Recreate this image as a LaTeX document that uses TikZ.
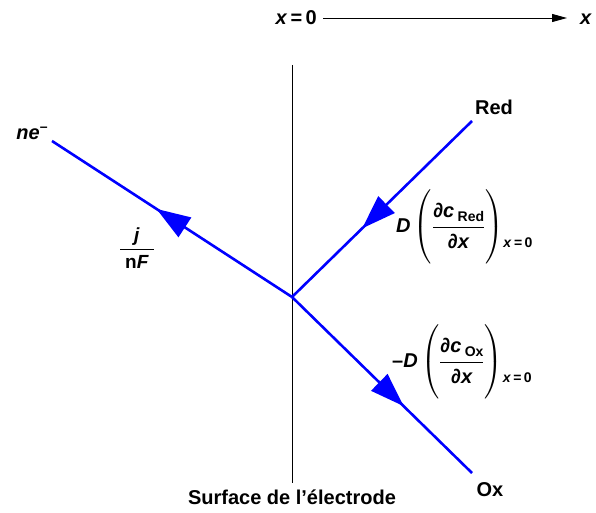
\documentclass[tikz,border=0pt]{standalone}
\usepackage{amsmath}
\usepackage{fontspec}
\setmainfont{Liberation Sans}
\usetikzlibrary{arrows.meta,decorations.markings}
\newcommand\iv[1]{\textit{#1}}
\newcommand\subtxt[1]{{\fontsize{14}{16}\selectfont\bfseries #1}}
\newcommand\fluxlabel[2]{%
  $\left(\vrule height 36pt depth 29pt width 0pt
  \genfrac{}{}{0.8pt}{0}{\text{∂\iv{c}\raisebox{-4pt}{\,\subtxt{#2}}}\rule[-7pt]{0pt}{1pt}}{\rule{0pt}{19pt}\text{∂\iv{x}}}\right)$%
  \raisebox{-15pt}{\subtxt{\iv{x}\,=\,0}}}
\begin{document}
\begin{tikzpicture}[x=1pt,y=-1pt,
  flux/.style={draw=blue,fill=blue,line width=2.6pt},
  midarrow/.style={postaction={decorate},decoration={markings,
     mark=at position #1 with {\arrow{Triangle[length=34pt,width=23pt]}}}},
  lbl/.style={font=\fontsize{20}{24}\selectfont\bfseries,inner sep=0pt},
  small/.style={font=\fontsize{19}{22}\selectfont\bfseries,inner sep=0pt}]
\useasboundingbox (0,0) rectangle (596,513);
% electrode surface
\coordinate (top) at (292,65);
\coordinate (bot) at (292,483);
\draw[line width=0.9pt] (top) -- (bot);
\coordinate (J) at (292,297);
\coordinate (R) at (472,121);
\coordinate (O) at (472,473);
\coordinate (E) at (52,141);
\draw[flux,midarrow=0.61] (R) -- (J);
\draw[flux,midarrow=0.62] (J) -- (O);
\draw[flux,midarrow=0.565] (J) -- (E);
% labels
\node[lbl] (red) at (494,107) {Red};
\node[lbl] (ox) at (490,490) {Ox};
\node[lbl] (ne) at (32,133) {\iv{ne}\raisebox{8pt}{\subtxt{–}}};
\node[lbl] (surf) at (292,497) {Surface de l’électrode};
\node[small] (jnf) at (137,248) {$\genfrac{}{}{0.8pt}{0}{\makebox[34pt]{\text{\iv{j}}}\rule[-6pt]{0pt}{1pt}}{\rule{0pt}{16pt}\text{n\iv{F}}}$};
\node[lbl,anchor=west] (dred) at (396,227) {\iv{D}\,\fluxlabel{x}{Red}};
\node[lbl,anchor=west] (dox) at (392,362) {–\iv{D}\,\fluxlabel{x}{Ox}};
% top axis
\node[lbl,anchor=east] (x0) at (317,18) {\iv{x}\,=\,0};
\node[lbl] (xx) at (586,19) {\iv{x}};
\draw[line width=0.9pt,-{Triangle[length=15pt,width=8pt]}] (x0.east) ++(6,0) coordinate (a0) -- (567,18) coordinate (a1);
\end{tikzpicture}
\end{document}
